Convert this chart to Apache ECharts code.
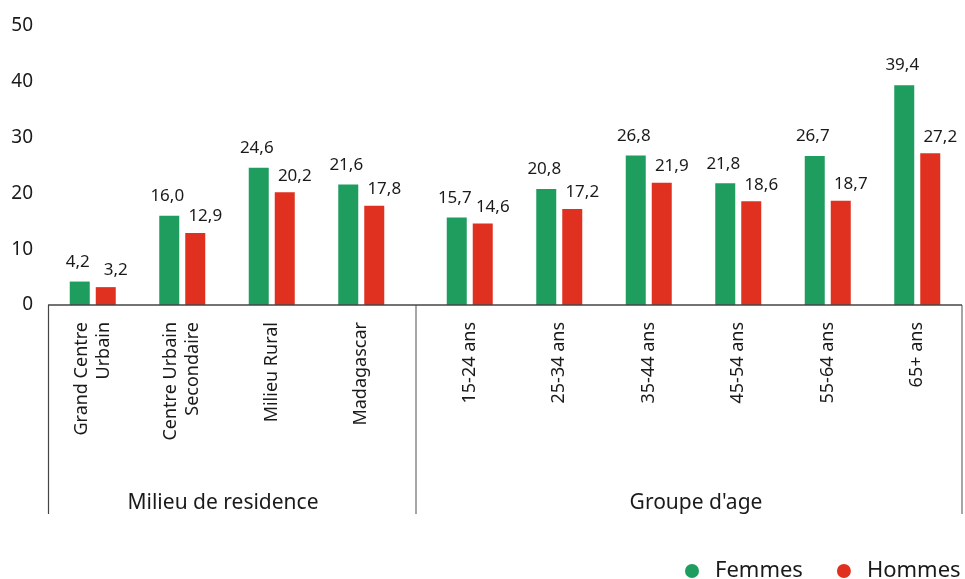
<!DOCTYPE html>
<html>
<head>
<meta charset="utf-8">
<script src="https://cdn.jsdelivr.net/npm/echarts@6/dist/echarts.min.js"></script>
<style>
html,body{margin:0;padding:0;background:#fff;}
#chart{width:965px;height:579px;}
</style>
</head>
<body>
<div id="chart"></div>
<script>
// ---- Data ----
const residenceCategories = ['Grand Centre\nUrbain', 'Centre Urbain\nSecondaire', 'Milieu Rural', 'Madagascar'];
const ageCategories = ['15-24 ans', '25-34 ans', '35-44 ans', '45-54 ans', '55-64 ans', '65+ ans'];
const femmesResidence = [4.2, 16.0, 24.6, 21.6];
const hommesResidence = [3.2, 12.9, 20.2, 17.8];
const femmesAge = [15.7, 20.8, 26.8, 21.8, 26.7, 39.4];
const hommesAge = [14.6, 17.2, 21.9, 18.6, 18.7, 27.2];
const groupLabels = ['Milieu de residence', "Groupe d'age"];
const seriesNames = ['Femmes', 'Hommes'];
const yTicks = [0, 10, 20, 30, 40, 50];

const FONT = 'Noto Sans';
const GREEN = '#1f9d5f';
const RED = '#e0301f';
const TXT = '#1a1a1a';

const chart = echarts.init(document.getElementById('chart'));

function fmt(p) { return p.value.toFixed(1).replace('.', ','); }

function barSeries(name, data, idx, color, offset, dist) {
  return {
    name: name,
    type: 'bar',
    xAxisIndex: idx,
    yAxisIndex: idx,
    data: data,
    barWidth: 20,
    barGap: '30%',
    itemStyle: { color: color },
    label: {
      show: true,
      position: 'top',
      distance: dist,
      offset: offset,
      formatter: fmt,
      fontFamily: FONT,
      fontSize: 17,
      color: TXT
    },
    emphasis: { disabled: true },
    animation: false
  };
}

const catAxis = (idx, data) => ({
  type: 'category',
  gridIndex: idx,
  data: data,
  axisLine: { show: false },
  axisTick: { show: false },
  axisLabel: {
    rotate: 90,
    interval: 0,
    margin: 17,
    fontFamily: FONT,
    fontSize: 18,
    lineHeight: 22,
    color: TXT
  }
});

const valAxis = (idx, show) => ({
  type: 'value',
  gridIndex: idx,
  min: yTicks[0],
  max: yTicks[yTicks.length - 1],
  interval: 10,
  show: show,
  splitLine: { show: false },
  axisLine: { show: false },
  axisTick: { show: false },
  axisLabel: {
    margin: 15,
    fontFamily: FONT,
    fontSize: 19,
    color: TXT
  }
});

const option = {
  backgroundColor: '#fff',
  animation: false,
  grid: [
    { left: 48, top: 26, width: 358, height: 279 },
    { left: 425, top: 26, width: 537, height: 279 }
  ],
  xAxis: [catAxis(0, residenceCategories), catAxis(1, ageCategories)],
  yAxis: [valAxis(0, true), valAxis(1, false)],
  legend: {
    data: seriesNames,
    left: 680,
    top: 555,
    width: 400,
    icon: 'circle',
    itemWidth: 14,
    itemHeight: 14,
    itemGap: 34,
    textStyle: { fontFamily: FONT, fontSize: 22, color: TXT, padding: [0, 0, 0, 11] }
  },
  series: [
    barSeries(seriesNames[0], femmesResidence, 0, GREEN, [-2, 0], 11),
    barSeries(seriesNames[1], hommesResidence, 0, RED, [10, 0], 8),
    barSeries(seriesNames[0], femmesAge, 1, GREEN, [-2, 0], 11),
    barSeries(seriesNames[1], hommesAge, 1, RED, [10, 0], 8)
  ],
  graphic: [
    { type: 'line', shape: { x1: 48, y1: 305, x2: 962, y2: 305 }, style: { stroke: '#444', lineWidth: 1.5 }, z: 10 },
    { type: 'line', shape: { x1: 48.5, y1: 305, x2: 48.5, y2: 514 }, style: { stroke: '#444', lineWidth: 1.2 } },
    { type: 'line', shape: { x1: 416, y1: 305, x2: 416, y2: 514 }, style: { stroke: '#888', lineWidth: 1.5 } },
    { type: 'line', shape: { x1: 962, y1: 305, x2: 962, y2: 514 }, style: { stroke: '#888', lineWidth: 1.5 } },
    { type: 'text', x: 223, y: 503, style: { text: groupLabels[0], font: '21px "' + FONT + '"', fill: TXT, textAlign: 'center', textVerticalAlign: 'middle' } },
    { type: 'text', x: 696, y: 503, style: { text: groupLabels[1], font: '21px "' + FONT + '"', fill: TXT, textAlign: 'center', textVerticalAlign: 'middle' } }
  ]
};

chart.setOption(option);
</script>
</body>
</html>
